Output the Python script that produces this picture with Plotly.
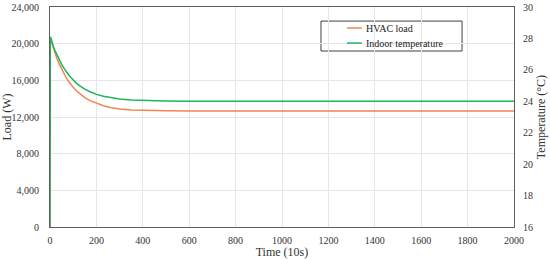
import plotly.graph_objs as go

# time steps (x 10 s)
time = [0, 1, 5, 10, 15, 20, 25, 30, 40, 50, 60, 70, 80, 90, 100, 115, 130,
        150, 175, 200, 230, 260, 300, 350, 400, 450, 500, 600, 800, 1000,
        1500, 2000]

# HVAC load (W)
hvacLoad = [0, 20700, 20256, 19836, 19439, 19064, 18709, 18375, 17760, 17211,
            16721, 16284, 15893, 15545, 15234, 14829, 14488, 14114, 13752,
            13479, 13220, 13040, 12870, 12770, 12715, 12685, 12670, 12656,
            12651, 12650, 12650, 12650]

# indoor temperature (deg C)
indoorTemp = [16, 28.1, 27.98, 27.67, 27.47, 27.28, 27.11, 26.94, 26.63, 26.35,
              26.11, 25.88, 25.69, 25.51, 25.35, 25.14, 24.97, 24.77, 24.59,
              24.44, 24.32, 24.23, 24.15, 24.08, 24.05, 24.03, 24.02, 24.005,
              24.0, 24.0, 24.0, 24.0]

seriesNames = ['HVAC load', 'Indoor temperature']
seriesColors = ['#F2844F', '#1EB35E']

FONT = 'Liberation Serif, Times New Roman, serif'
AXIS_COLOR = '#5f5f5f'
GRID_COLOR = '#e6e6e6'


def legendBox():
    # hand-drawn legend, tighter than plotly's own
    shapes = [dict(type='rect', xref='paper', yref='paper',
                   x0=0.584, x1=0.888, y0=0.80, y1=0.936,
                   line=dict(color='#404040', width=1),
                   fillcolor='white', layer='below')]
    annotations = []
    rows = [0.9045, 0.836]
    for name, color, yy in zip(seriesNames, seriesColors, rows):
        shapes.append(dict(type='line', xref='paper', yref='paper',
                           x0=0.640, x1=0.672, y0=yy, y1=yy,
                           line=dict(color=color, width=1.5)))
        annotations.append(dict(xref='paper', yref='paper', x=0.676, y=yy,
                                xanchor='left', yanchor='middle',
                                text=name, showarrow=False,
                                font=dict(family=FONT, size=10, color='#202020')))
    return shapes, annotations


def buildFigure():
    data = [
        go.Scatter(x=time, y=hvacLoad, name=seriesNames[0], mode='lines',
                   line=dict(color=seriesColors[0], width=1.5)),
        go.Scatter(x=time, y=indoorTemp, name=seriesNames[1], mode='lines',
                   yaxis='y2', line=dict(color=seriesColors[1], width=1.5)),
    ]
    shapes, annotations = legendBox()
    layout = go.Layout(
        width=550, height=259,
        margin=dict(l=50, r=36, t=7, b=32),
        paper_bgcolor='white', plot_bgcolor='white',
        font=dict(family=FONT, size=10, color='#333333'),
        showlegend=False,
        xaxis=dict(
            title=dict(text='Time (10s)', standoff=2),
            range=[0, 2000], dtick=200, tickformat='d',
            showgrid=True, gridcolor=GRID_COLOR, zeroline=False,
            showline=True, linecolor=AXIS_COLOR, mirror=True,
            ticks='', ticklabelstandoff=4, automargin=False,
        ),
        yaxis=dict(
            title=dict(text='Load (W)', standoff=20),
            range=[0, 24000], dtick=4000, tickformat=',d',
            showgrid=True, gridcolor=GRID_COLOR, zeroline=False,
            showline=True, linecolor=AXIS_COLOR, mirror=True,
            ticks='', ticklabelstandoff=8, automargin=False,
        ),
        yaxis2=dict(
            title=dict(text='Temperature (°C)', standoff=4),
            range=[16, 30], dtick=2, overlaying='y', side='right',
            showgrid=False, zeroline=False, showline=False,
            ticks='', ticklabelstandoff=8, automargin=False,
        ),
        shapes=shapes,
        annotations=annotations,
    )
    return go.Figure(data=data, layout=layout)


fig = buildFigure()
# drop the browser's default 8px body margin so the figure fills the window
fig.write_html("out.html", config={'displayModeBar': False},
               post_script="document.body.style.margin='0px';")
